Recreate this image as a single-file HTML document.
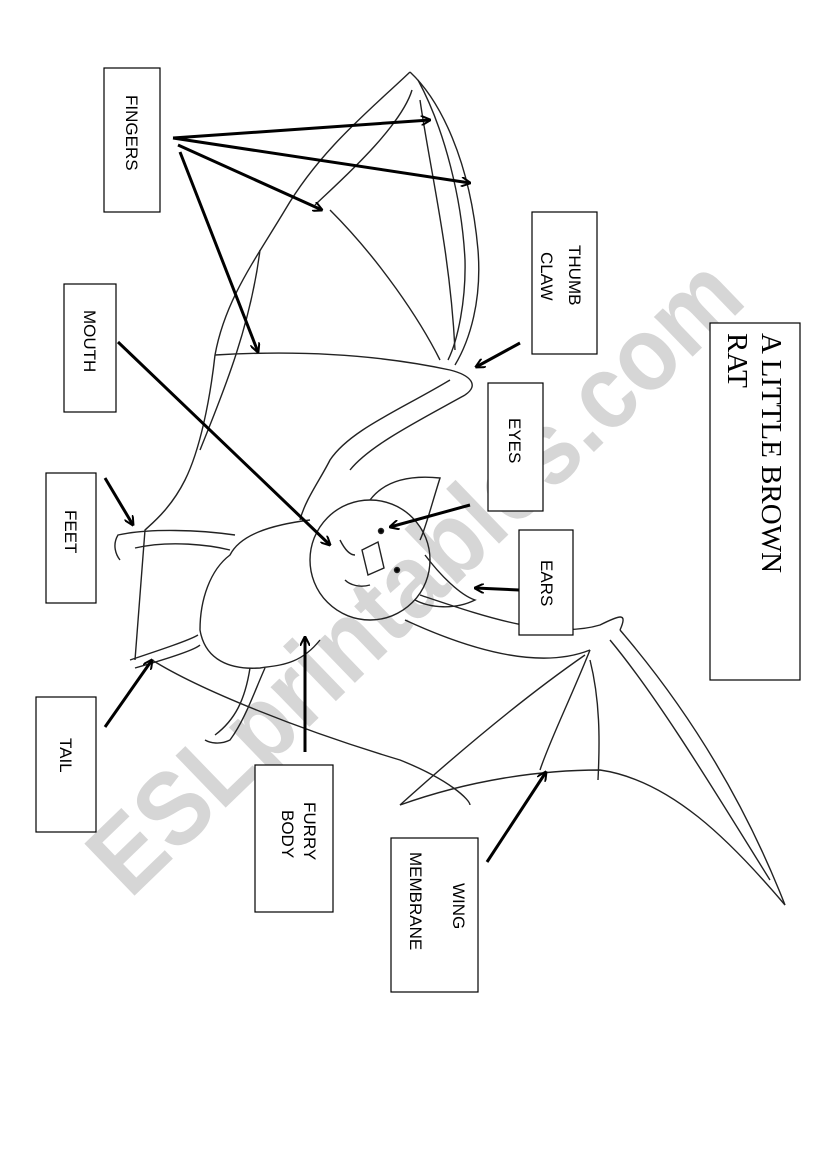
<!DOCTYPE html>
<html><head><meta charset="utf-8"><style>
html,body{margin:0;padding:0;background:#fff;}
svg{display:block}
.lbl{font-family:"Liberation Sans",sans-serif;font-size:17px;fill:#000}
</style></head><body>
<svg width="826" height="1169" viewBox="0 0 826 1169" xmlns="http://www.w3.org/2000/svg">
<defs>
<marker id="ah" markerWidth="10" markerHeight="10" refX="9" refY="5" orient="auto" markerUnits="userSpaceOnUse">
<path d="M0,0 L10,5 L0,10" fill="none" stroke="#000" stroke-width="2"/>
</marker>
</defs>
<!-- watermark -->
<text x="0" y="0" transform="translate(130,900) rotate(-44)" font-family="Liberation Sans,sans-serif" font-weight="bold" font-size="105" fill="#d6d6d6" textLength="860" lengthAdjust="spacingAndGlyphs">ESLprintables.com</text>

<g fill="none" stroke="#222" stroke-width="1.4">
<path d="M410,72 C440,100 470,160 478,250 C482,300 470,340 455,365"/>
<path d="M418,80 C445,130 462,200 465,260 C466,300 458,340 448,360"/>
<path d="M410,72 C370,110 320,150 285,210 C255,260 225,300 215,355"/>
<path d="M412,90 C400,130 330,190 315,205 M330,210 C380,260 420,320 440,360"/>
<path d="M420,100 C430,170 450,250 455,350"/>
<path d="M215,355 C300,350 380,355 450,370 C470,375 480,385 465,395"/>
<path d="M215,355 C210,400 200,450 185,480 C170,510 150,525 145,530 L135,660"/>
<path d="M260,250 C250,330 220,400 200,450"/>
<path d="M450,380 C400,410 350,430 330,460 C320,480 305,500 300,520"/>
<path d="M465,395 C420,420 370,445 350,470"/>
<path d="M310,520 C270,525 240,535 230,555 C210,570 200,600 200,630 C205,660 230,670 260,668 C280,665 300,665 320,640"/>
<path d="M235,535 C200,530 150,528 118,535 C112,545 116,555 120,560 M135,548 C170,540 210,545 230,550"/>
<path d="M130,660 C160,650 190,640 198,635 M135,668 C170,658 195,650 200,645"/>
<path d="M265,668 C255,690 245,720 230,740 C220,745 210,743 205,740 M250,668 C245,700 235,720 215,735"/>
<circle cx="370" cy="560" r="60"/>
<path d="M370,500 C385,480 410,475 440,478 C430,510 425,530 420,540"/>
<path d="M425,555 C440,575 460,595 475,600 C455,610 430,608 415,600"/>
<path d="M362,550 L378,542 L384,568 L368,575 Z"/>
<path d="M340,540 C345,550 350,555 355,555 M345,580 C350,585 360,588 370,585"/>
<circle cx="381" cy="531" r="2.5" fill="#000"/>
<circle cx="397" cy="570" r="2.5" fill="#000"/>
<path d="M420,595 C480,615 550,640 600,625 C620,615 628,612 620,630"/>
<path d="M405,620 C470,650 540,670 590,650"/>
<path d="M620,630 C680,700 740,790 785,905"/>
<path d="M610,640 C660,700 720,800 770,880"/>
<path d="M152,660 C200,690 300,730 400,760 C450,780 470,800 470,805"/>
<path d="M400,805 C470,780 540,770 600,770 C670,780 730,840 785,905"/>
<path d="M590,650 C570,700 550,740 540,770"/>
<path d="M590,660 C600,700 600,740 598,780"/>
<path d="M400,805 C450,760 520,700 585,655"/>
</g>

<g fill="#fff" stroke="#000" stroke-width="1.2">
<rect x="104" y="68" width="56" height="144"/>
<rect x="64" y="284" width="52" height="128"/>
<rect x="46" y="473" width="50" height="130"/>
<rect x="36" y="697" width="60" height="135"/>
<rect x="255" y="765" width="78" height="147"/>
<rect x="391" y="838" width="87" height="154"/>
<rect x="532" y="212" width="65" height="142"/>
<rect x="488" y="383" width="55" height="128"/>
<rect x="519" y="530" width="54" height="105"/>
<rect x="710" y="323" width="90" height="357"/>
</g>

<g class="lbl">
<text transform="translate(126,95) rotate(90)">FINGERS</text>
<text transform="translate(84,310) rotate(90)">MOUTH</text>
<text transform="translate(65,510) rotate(90)">FEET</text>
<text transform="translate(60,738) rotate(90)">TAIL</text>
<text transform="translate(304,802) rotate(90)">FURRY</text>
<text transform="translate(282,810) rotate(90)">BODY</text>
<text transform="translate(453,883) rotate(90)">WING</text>
<text transform="translate(410,852) rotate(90)">MEMBRANE</text>
<text transform="translate(569,245) rotate(90)">THUMB</text>
<text transform="translate(541,252) rotate(90)">CLAW</text>
<text transform="translate(509,418) rotate(90)">EYES</text>
<text transform="translate(541,560) rotate(90)">EARS</text>
</g>
<g font-family="Liberation Serif,serif" font-size="29" fill="#000">
<text transform="translate(762,333) rotate(90)">A LITTLE BROWN</text>
<text transform="translate(728,333) rotate(90)">RAT</text>
</g>

<g stroke="#000" stroke-width="3" fill="none" marker-end="url(#ah)">
<line x1="173" y1="138" x2="430" y2="120"/>
<line x1="173" y1="138" x2="470" y2="183"/>
<line x1="178" y1="145" x2="322" y2="210"/>
<line x1="180" y1="152" x2="258" y2="352"/>
<line x1="118" y1="342" x2="330" y2="545"/>
<line x1="105" y1="478" x2="133" y2="525"/>
<line x1="105" y1="727" x2="152" y2="660"/>
<line x1="305" y1="752" x2="305" y2="637"/>
<line x1="487" y1="862" x2="546" y2="772"/>
<line x1="520" y1="343" x2="476" y2="367"/>
<line x1="470" y1="505" x2="390" y2="527"/>
<line x1="519" y1="590" x2="475" y2="588"/>
</g>
</svg>
</body></html>
